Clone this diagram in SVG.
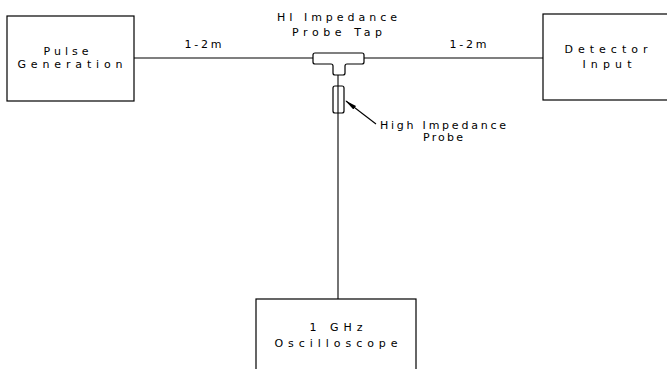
<svg xmlns="http://www.w3.org/2000/svg" width="667" height="369" viewBox="0 0 667 369">
<defs>
<style>
.box{fill:none;stroke:#000;stroke-width:1.2}
.ln{fill:none;stroke:#000;stroke-width:1.1}
.t{font-family:"DejaVu Sans","Liberation Sans",sans-serif;font-size:11px;fill:#000;text-anchor:middle}
</style>
<marker id="ah" markerWidth="12" markerHeight="6" refX="11" refY="3" orient="auto" markerUnits="userSpaceOnUse">
<path d="M0,0.8 L12,3 L0,5.2 Z" fill="#000"/>
</marker>
</defs>
<rect width="667" height="369" fill="#fff"/>
<g id="pulse">
<rect class="box" x="7" y="16" width="127" height="85"/>
<text class="t" x="66" y="55" textLength="45" lengthAdjust="spacing">Pulse</text>
<text class="t" x="70" y="68" textLength="105" lengthAdjust="spacing">Generation</text>
</g>
<g id="detector">
<rect class="box" x="543" y="14" width="140" height="86"/>
<text class="t" x="606" y="53" textLength="83" lengthAdjust="spacing">Detector</text>
<text class="t" x="607" y="68" textLength="49" lengthAdjust="spacing">Input</text>
</g>
<g id="oscilloscope">
<rect class="box" x="256" y="299" width="160" height="90"/>
<text class="t" x="336" y="331" textLength="53" lengthAdjust="spacing">1 GHz</text>
<text class="t" x="336" y="347" textLength="123" lengthAdjust="spacing">Oscilloscope</text>
</g>
<g id="tap">
<path class="box" d="M313,55 Q313,53 315,53 H362 Q364,53 364,55 V62 Q364,64 362,64 H347 Q345,64 345,66 V73 Q345,75 343,75 H335 Q333,75 333,73 V66 Q333,64 331,64 H315 Q313,64 313,62 Z"/>
<text class="t" x="337" y="21" textLength="120" lengthAdjust="spacing">HI Impedance</text>
<text class="t" x="337" y="36" textLength="90" lengthAdjust="spacing">Probe Tap</text>
</g>
<g id="probe">
<rect class="box" x="333" y="86" width="11" height="27" rx="2"/>
<text class="t" x="443" y="129" textLength="126" lengthAdjust="spacing">High Impedance</text>
<text class="t" x="443" y="141" textLength="40" lengthAdjust="spacing">Probe</text>
</g>
<g id="connectors">
<line class="ln" x1="134" y1="58" x2="313" y2="58"/>
<line class="ln" x1="364" y1="58" x2="543" y2="58"/>
<line class="ln" x1="338" y1="75" x2="338" y2="299"/>
<line class="ln" x1="376" y1="124" x2="346" y2="101" marker-end="url(#ah)"/>
<text class="t" x="203" y="48" textLength="37" lengthAdjust="spacing">1-2m</text>
<text class="t" x="468" y="48" textLength="37" lengthAdjust="spacing">1-2m</text>
</g>
</svg>
